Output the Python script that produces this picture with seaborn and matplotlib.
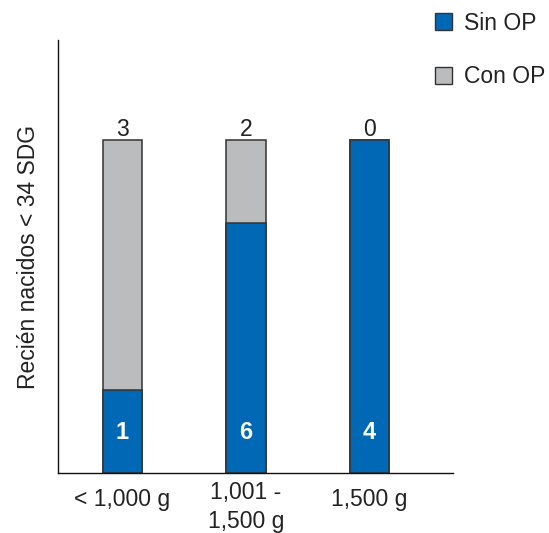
import matplotlib
matplotlib.use("Agg")
import matplotlib.pyplot as plt
import matplotlib.transforms as mtrans
import seaborn as sns
import pandas as pd
from matplotlib.patches import Patch

categories = ["< 1,000 g", "1,001 -\n1,500 g", "1,500 g"]
sin_op = [1, 6, 4]
con_op = [3, 2, 0]

blue = "#0068B4"
gray = "#BBBCBE"
edge = "#333333"

sns.set_style("white")
plt.rcParams["font.family"] = ["Liberation Sans", "DejaVu Sans"]

total = [s + c for s, c in zip(sin_op, con_op)]
df = pd.DataFrame({
    "cat": categories,
    "sin_pct": [100 * s / t for s, t in zip(sin_op, total)],
    "tot_pct": [100.0 for _ in total],
})

fig = plt.figure(figsize=(5.49, 5.33), dpi=100)
ax = fig.add_axes([58 / 549, 60 / 533, 395 / 549, 433 / 533])

sns.barplot(data=df, x="cat", y="tot_pct", color=gray, width=0.316,
            edgecolor=edge, linewidth=1.1, ax=ax, saturation=1)
sns.barplot(data=df, x="cat", y="sin_pct", color=blue, width=0.316,
            edgecolor=edge, linewidth=1.1, ax=ax, saturation=1)

for i, (s, c) in enumerate(zip(sin_op, con_op)):
    ax.text(i, 101.2, str(c), ha="center", va="baseline", fontsize=16.5, color="#222222")
    ax.text(i, 12.3, str(s), ha="center", va="center", fontsize=17,
            color="white", fontweight="bold")

ax.set_ylim(0, 130)
ax.set_xlim(-0.522, 2.676)
ax.set_yticks([])
ax.tick_params(axis="x", length=0, labelsize=16.5, pad=11, colors="#222222")
for lab in ax.get_xticklabels():
    lab.set_linespacing(1.3)
    if "\n" in lab.get_text():
        lab.set_transform(lab.get_transform() +
                          mtrans.ScaledTranslation(0, 7 / 100, fig.dpi_scale_trans))
ax.set_xlabel("")
ax.set_ylabel("Recién nacidos < 34 SDG", fontsize=16.5, color="#222222", labelpad=13)
for sp in ["top", "right"]:
    ax.spines[sp].set_visible(False)
for sp in ["left", "bottom"]:
    ax.spines[sp].set_color("#111111")
    ax.spines[sp].set_linewidth(1.0)

handles = [Patch(facecolor=blue, edgecolor=edge, linewidth=1.0, label="Sin OP"),
           Patch(facecolor=gray, edgecolor=edge, linewidth=1.0, label="Con OP")]
fig.legend(handles=handles, loc="upper left", bbox_to_anchor=(414 / 549, 1 + 9 / 533),
           frameon=False, fontsize=16.5, handlelength=0.75, handleheight=0.75,
           handletextpad=0.55, labelspacing=1.33, labelcolor="#222222")

fig.savefig("out.png", dpi=100)
